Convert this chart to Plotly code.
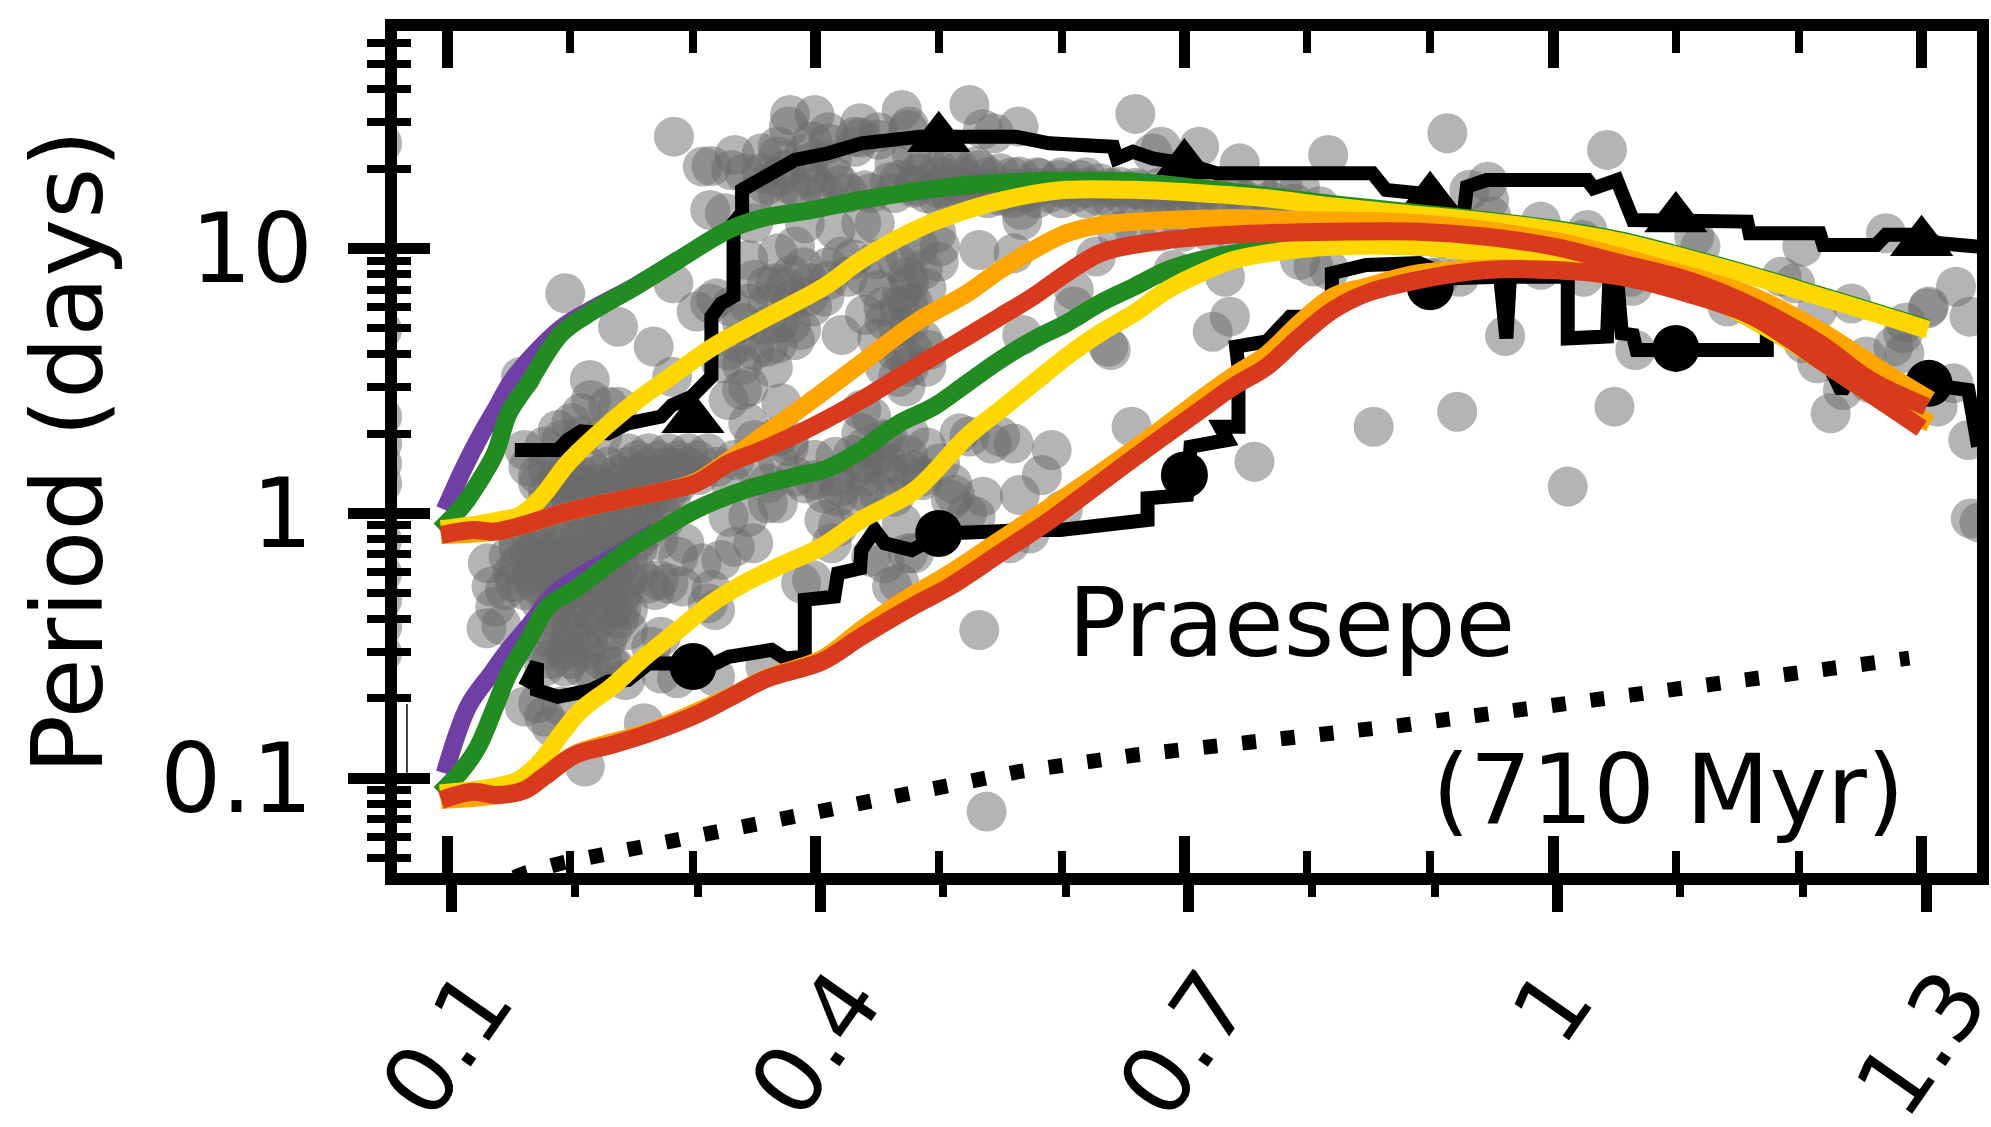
import plotly.graph_objects as go

# ---------- axis values ----------
MASS_TICKS = [0.1, 0.4, 0.7, 1.0, 1.3]
MASS_TICK_LABELS = ["0.1", "0.4", "0.7", "1", "1.3"]
MASS_MINOR = [0.2, 0.3, 0.5, 0.6, 0.8, 0.9, 1.1, 1.2]
PERIOD_TICKS = [0.1, 1, 10]
PERIOD_TICK_LABELS = ["0.1", "1", "10"]
PERIOD_MINOR = [0.05, 0.06, 0.07, 0.08, 0.09, 0.2, 0.3, 0.4, 0.5, 0.6, 0.7, 0.8, 0.9,
                2, 3, 4, 5, 6, 7, 8, 9, 20, 30, 40, 50, 60, 70]

# ---------- stars: (mass, log10 period) ----------
stars_top_ridge = [
    (.2845,1.423),(.308,1.31),(.315,1.312),(.334,1.354),(.331,1.297),(.356,1.36),(.342,1.285),
    (.379,1.505),(.399,1.505),(.378,1.461),(.436,1.474),(.432,1.423),(.47,1.524),(.475,1.448),
    (.314,1.146),(.326,1.134),(.369,1.386),(.397,1.405),(.41,1.44),(.437,1.42),(.451,1.44),
    (.369,1.348),(.391,1.36),(.41,1.398),(.432,1.385),(.451,1.411),(.356,1.285),(.375,1.297),
    (.394,1.323),(.413,1.335),(.464,1.32),(.478,1.36),(.35,1.2),(.369,1.21),(.388,1.21),
    (.407,1.21),(.426,1.21),(.445,1.21),(.464,1.21),(.48,1.24),(.415,1.27),(.395,1.27),(.37,1.27),
    (.36,1.24),(.38,1.24),(.4,1.24),(.42,1.24),(.44,1.22),(.46,1.25),
]
stars_upper_band = [
    (.468,1.259),(.484,1.285),(.50,1.297),(.517,1.297),(.533,1.297),(.55,1.285),(.566,1.272),
    (.582,1.266),(.598,1.259),(.615,1.259),(.631,1.247),(.647,1.234),(.663,1.222),(.68,1.209),
    (.696,1.196),(.713,1.184),(.729,1.171),(.745,1.165),(.761,1.159),(.778,1.146),
    (.49,1.21),(.51,1.2),(.53,1.22),(.55,1.2),(.57,1.21),(.59,1.21),(.61,1.21),(.63,1.2),(.65,1.2),
    (.67,1.2),(.69,1.2),(.71,1.19),(.73,1.19),(.75,1.18),(.77,1.18),(.79,1.17),(.81,1.16),
    (.49,1.32),(.51,1.32),(.53,1.31),(.78,1.234),(.794,1.234),
    (.525,1.543),(.476,1.461),(.536,1.451),(.545,1.436),(.565,1.461),(.66,1.509),(.681,1.385),
    (.674,1.36),(.712,1.385),(.745,1.322),(.817,1.354),
    (.645,1.065),(.66,1.065),(.68,1.065),(.699,1.065),(.72,1.065),(.74,1.06),(.759,1.06),(.78,1.055),
    (.5,1.27),(.52,1.27),(.54,1.27),(.56,1.27),(.58,1.27),(.6,1.27),(.62,1.27),
    (.48,1.23),(.5,1.23),(.52,1.23),(.54,1.23),(.56,1.23),(.58,1.23),(.6,1.23),(.62,1.23),(.64,1.23),
    (.66,1.23),(.68,1.23),(.7,1.23),(.72,1.23),(.74,1.23),(.76,1.23),
    (.5,1.19),(.52,1.19),(.54,1.19),(.56,1.19),(.58,1.19),(.6,1.19),(.62,1.19),(.64,1.19),(.66,1.19),
    (.68,1.19),(.7,1.19),
]
stars_middle = [
    (.568,1.108),(.567,1.146),(.533,.995),(.561,.982),(.501,1.008),(.484,1.008),(.498,1.058),
    (.487,.919),(.473,.97),(.476,.869),(.468,.781),(.479,.793),(.476,.718),(.487,.655),(.479,.617),
    (.492,.617),(.476,.554),(.49,.554),(.473,.479),
    (.349,1.096),(.369,.982),(.383,1.008),(.391,1.096),(.416,1.071),(.421,.97),(.437,1.096),
    (.448,1.096),(.426,.894),(.44,.894),(.451,.844),(.467,.945),(.475,.894),(.345,.957),(.35,.882),
    (.367,.869),(.375,.856),(.345,.793),(.361,.793),(.38,.806),(.394,.819),(.407,.819),(.397,.781),
    (.421,.674),(.456,.73),(.467,.705),(.475,.793),(.369,.642),(.383,.655),(.35,.617),(.361,.63),
    (.337,.642),(.38,.718),(.388,.693),(.345,.479),(.34,.466),(.372,.416),
    (.464,.617),(.456,.554),(.472,.592),(.467,.516),(.437,.39),(.445,.365),(.345,.34),(.378,.252),
    (.369,.29),(.44,.189),(.451,.214),
    (.284,.869),(.303,.762),(.314,.793),(.319,.812),(.331,.781),(.239,.705),(.268,.63),(.283,.516),
    (.16,.516),(.216,.504),(.217,.428),(.231,.403),(.239,.403),(.201,.34),(.19,.315),(.209,.378),
    (.196,.831),(.329,.428),(.323,.567),(.329,.617),
    (.39,.93),(.41,.93),(.43,.96),(.45,.96),(.395,.87),(.41,.88),(.455,.78),(.44,.75),(.49,.85),
    (.5,.95),(.47,.84),(.45,.66),(.36,.86),(.38,.9),(.36,.71),(.37,.72),(.34,.72),(.34,.56),(.365,.55),
    (.44,.25),(.455,.28),(.43,.22),(.46,.15),(.44,.08),(.42,.1),(.475,.22),(.49,.25),
]
stars_lower_blob = [
    (.247,.227),(.264,.227),(.28,.227),(.296,.227),(.312,.227),(.163,.239),(.179,.252),(.193,.277),
    (.209,.29),(.226,.29),
    (.166,.176),(.182,.176),(.198,.176),(.215,.176),(.231,.176),(.247,.176),(.264,.176),(.28,.176),
    (.296,.176),(.32,.176),
    (.174,.113),(.19,.113),(.207,.113),(.223,.113),(.239,.113),(.255,.113),(.272,.113),(.288,.113),
    (.185,.05),(.201,.05),(.217,.05),(.234,.05),(.25,.05),(.266,.05),(.282,.05),
    (.212,-.025),(.228,-.025),(.245,-.025),(.261,-.025),(.277,-.025),
    (.158,-.101),(.174,-.101),(.19,-.101),(.207,-.101),(.223,-.101),(.239,-.101),(.255,-.101),(.272,-.101),
    (.15,-.164),(.166,-.164),(.182,-.164),(.198,-.164),(.215,-.164),(.231,-.164),(.247,-.164),
    (.153,-.227),(.169,-.227),(.185,-.227),(.201,-.227),(.217,-.227),(.234,-.227),
    (.147,-.29),(.163,-.29),(.179,-.29),(.196,-.29),(.212,-.29),(.228,-.29),(.244,-.29),
    (.185,-.365),(.201,-.365),(.217,-.365),(.234,-.365),(.247,-.365),
    (.185,-.441),(.201,-.441),(.217,-.441),(.234,-.441),(.247,-.441),
    (.179,-.516),(.196,-.516),(.212,-.516),(.179,-.579),(.196,-.579),(.209,-.579),(.234,-.579),
    (.132,-.434),(.144,-.422),(.139,-.353),(.136,-.277),(.133,-.189),
    (.163,-.73),(.179,-.768),(.174,-.718),(.185,-.806),(.193,-.73),(.26,-.793),(.212,-.957),
    (.245,-.63),(.287,-.623),(.302,-.567),(.318,-.617),(.22,-.605),(.236,-.579),(.226,-.554),
    (.274,-.605),(.359,-.579),
    (.288,-.164),(.307,-.189),(.323,-.176),(.349,-.113),(.334,-.126),(.293,-.113),(.272,-.252),
    (.291,-.277),(.312,-.34),(.318,-.365),(.269,-.29),(.28,-.265),(.247,-.252),(.264,-.265),
    (.242,-.353),(.255,-.227),(.274,-.466),(.266,-.504),(.315,-.29),
]
stars_lower_blob_core = [
    (.255,.2),(.272,.2),(.288,.2),(.304,.2),
    (.174,.145),(.19,.145),(.207,.145),(.223,.145),(.239,.145),(.255,.145),(.272,.145),(.288,.145),(.305,.145),
    (.182,.08),(.198,.08),(.215,.08),(.231,.08),(.247,.08),(.264,.08),(.28,.08),
    (.193,.01),(.209,.01),(.226,.01),(.242,.01),(.258,.01),(.274,.01),
    (.166,-.065),(.182,-.065),(.198,-.065),(.215,-.065),(.231,-.065),(.247,-.065),(.263,-.065),
    (.158,-.13),(.174,-.13),(.19,-.13),(.207,-.13),(.223,-.13),(.239,-.13),(.255,-.13),
    (.158,-.195),(.174,-.195),(.19,-.195),(.207,-.195),(.223,-.195),(.24,-.195),
    (.155,-.26),(.171,-.26),(.187,-.26),(.204,-.26),(.22,-.26),(.236,-.26),
    (.175,-.33),(.19,-.33),(.207,-.33),(.223,-.33),(.24,-.33),
    (.19,-.40),(.207,-.40),(.223,-.40),(.24,-.40),
    (.185,-.48),(.2,-.48),(.215,-.48),(.23,-.48),(.185,-.55),(.2,-.55),
]
stars_lower_mid = [
    (.329,-.013),(.345,-.013),(.361,.038),(.369,.038),(.383,.139),(.399,.126),(.416,.139),(.432,.164),
    (.448,.214),(.459,.189),(.418,.063),(.434,.025),(.418,-.05),(.451,.076),(.464,.063),(.473,.151),
    (.331,.113),(.35,.176),(.369,.202),(.378,.277),(.35,.277),(.334,.202),(.399,.202),(.416,.214),
    (.459,.277),(.437,.302),(.391,.113),(.361,.113),(.44,.139),(.407,.076),
    (.388,-.264),(.397,-.252),(.462,-.277),(.445,-.164),(.456,-.189),(.413,-.113),(.475,-.151),
    (.47,-.038),(.407,-.025),
    (.476,.302),(.501,.189),(.486,.139),(.592,.239),(.584,.145),(.566,.069),(.536,.063),(.511,.113),
    (.51,.05),(.523,0),(.53,-.013),(.513,.07),(.487,.126),(.479,.164),(.525,.29),(.543,.264),(.561,.264),
    (.517,.302),(.55,.29),(.601,.013),(.558,-.113),(.574,-.076),(.48,-.151),(.468,-.264),(.533,-.441),
    (.539,-1.127),(.757,.195),(.854,.327),
    (.61,.844),(.61,.781),(.628,.97),(.691,.919),(.733,.894),(.737,.743),(.723,.686),(.568,.674),
    (.64,.617),(.638,.63),(.657,.327),(.805,.932),(.818,.919),(.794,.957),
]
stars_high_mass = [
    (.914,1.436),(1.044,1.373),(.947,1.253),(.932,1.222),(.948,1.184),(.95,1.121),(.99,1.102),
    (1.024,1.033),(1.028,1.07),(.961,.67),(.922,.384),(1.05,.403),(1.012,.101),(.924,.894),(.908,.894),
    (.9,.89),(.99,.92),(1.025,.894),(1.063,.894),(1.065,.86),(1.114,.882),(1.067,.617),(1.142,.781),
    (1.142,.83),(1.186,.894),(1.197,.869),(1.203,1.008),(1.12,1.008),(1.115,1.045),(1.271,1.058),
    (1.243,.793),(1.306,.781),(1.215,.768),(1.204,.642),(1.215,.567),(1.226,.378),(1.236,.466),
    (1.258,.491),(1.255,.592),(1.285,.68),(1.286,.605),(1.277,.63),(1.287,.72),
    (1.328,.856),(1.305,.775),(1.339,.743),(1.313,.403),(1.338,.277),(1.34,-.02),(1.347,-.035),(1.326,.491),
]
stars_left_edge = [
    (.047,1.398),(.047,.693),(.047,.365),(.047,.264),(.047,.189),(.047,.113),(.047,-.101),(.047,-.227),
    (.047,-.327),(.047,-.428),(.047,-.529),
]

# ---------- envelope curves: mass, log10 period ----------
purple_upper_m = [.098,.114,.128,.139,.155,.193,.22,.253,.288]
purple_upper_p = [.0126,.176,.302,.39,.516,.7,.776,.858,.957]
green_upper_m = [.094,.112,.125,.139,.15,.166,.193,.22,.253,.288,.329,.356,.397,.437,.48,.523,.565,.604,.659,.713,.767,.821,.891,.946,1.0,1.055,1.109,1.163,1.217,1.271,1.305]
green_upper_p = [-.063,.025,.113,.227,.378,.491,.68,.768,.856,.957,1.071,1.115,1.146,1.184,1.215,1.24,1.253,1.257,1.253,1.228,1.199,1.168,1.134,1.107,1.075,1.031,.968,.899,.824,.748,.698]
yellow_upper_m = [.095,.139,.16,.177,.198,.22,.255,.283,.315,.356,.407,.437,.481,.523,.565,.604,.659,.713,.767,.821,.891,.946,1.0,1.055,1.109,1.163,1.217,1.271,1.305]
yellow_upper_p = [-.06,-.03,-.006,.063,.189,.29,.428,.52,.625,.73,.856,.957,1.071,1.146,1.196,1.222,1.222,1.209,1.19,1.159,1.127,1.102,1.07,1.026,.963,.894,.819,.743,.693]
orange_upper_m = [.095,.139,.162,.193,.234,.274,.302,.329,.356,.397,.437,.481,.523,.55,.577,.604,.631,.686,.74,.794,.891,1.0,1.109,1.163,1.217,1.271,1.307]
orange_upper_p = [-.082,-.069,-.044,0,.044,.082,.118,.2,.29,.428,.567,.72,.831,.919,.995,1.058,1.089,1.108,1.115,1.108,1.096,1.03,.9,.82,.69,.53,.428]
red_upper_m = [.095,.121,.139,.162,.193,.234,.274,.302,.329,.356,.397,.437,.468,.496,.523,.55,.577,.604,.631,.659,.713,.767,.821,.891,.946,1.0,1.055,1.109,1.163,1.217,1.258,1.304]
red_upper_p = [-.082,-.063,-.069,-.044,0,.044,.082,.113,.189,.239,.327,.428,.516,.592,.667,.743,.819,.907,.982,1.014,1.045,1.058,1.064,1.064,1.045,1.008,.945,.882,.781,.642,.504,.403]
purple_lower_m = [.098,.117,.136,.15,.166,.188,.209,.247,.269]
purple_lower_p = [-.982,-.73,-.605,-.516,-.428,-.302,-.235,-.135,-.07]
green_lower_m = [.094,.112,.125,.139,.15,.166,.182,.207,.247,.274,.302,.342,.383,.41,.437,.468,.496,.523,.55,.577,.604,.631,.659,.686,.713,.74,.767,.821,.891,.946,1.0,1.055,1.109,1.163,1.217,1.258,1.3]
green_lower_p = [-1.058,-.97,-.882,-.73,-.605,-.479,-.353,-.277,-.139,-.063,.013,.088,.139,.17,.239,.34,.403,.491,.579,.655,.718,.793,.856,.919,.957,.982,1.001,1.014,1.008,.982,.957,.907,.856,.73,.579,.453,.327]
yellow_lower_m = [.094,.139,.158,.177,.193,.209,.234,.261,.288,.315,.342,.369,.405,.437,.481,.523,.55,.577,.604,.631,.659,.686,.713,.74,.767,.821,.891,.946,1.0,1.055,1.109,1.163,1.217,1.258,1.3]
yellow_lower_p = [-1.058,-1.033,-1.008,-.932,-.831,-.743,-.655,-.542,-.441,-.34,-.264,-.202,-.126,-.025,.088,.29,.39,.491,.592,.68,.756,.844,.907,.957,.982,1.008,1.008,.982,.97,.932,.856,.73,.579,.453,.327]
orange_lower_m = [.095,.162,.179,.204,.264,.329,.361,.405,.437,.468,.509,.55,.591,.631,.679,.713,.74,.767,.794,.821,.848,.891,.946,1.0,1.055,1.109,1.163,1.217,1.258,1.307]
orange_lower_p = [-1.083,-1.045,-.99,-.91,-.825,-.695,-.62,-.55,-.44,-.34,-.227,-.101,.025,.151,.31,.43,.52,.6,.72,.819,.856,.907,.925,.92,.9,.84,.75,.585,.46,.34]
red_lower_m = [.095,.121,.139,.162,.179,.204,.234,.264,.302,.329,.361,.405,.437,.481,.509,.55,.591,.631,.679,.713,.74,.767,.794,.821,.848,.891,.946,1.0,1.055,1.109,1.163,1.217,1.258,1.3]
red_lower_p = [-1.083,-1.052,-1.064,-1.048,-.995,-.913,-.875,-.831,-.762,-.699,-.623,-.56,-.466,-.346,-.277,-.151,-.025,.113,.277,.39,.479,.554,.667,.768,.831,.882,.919,.919,.894,.831,.743,.579,.453,.321]

# ---------- black percentile tracks ----------
track_slow_m = [.155,.190,.198,.209,.231,.247,.274,.283,.299,.315,.315,.323,.333,.333,.340,.340,.359,.383,.410,.437,.485,.523,.563,.590,.642,.645,.658,.674,.699,.726,.821,.853,.864,.891,.927,.930,.946,1.028,1.033,1.052,1.065,1.158,1.160,1.217,1.220,1.263,1.271,1.293,1.315,1.35]
track_slow_p = [.239,.239,.277,.309,.302,.340,.365,.409,.441,.516,.743,.793,.819,1.096,1.134,1.222,1.272,1.335,1.36,1.398,1.423,1.417,1.423,1.398,1.385,1.341,1.366,1.341,1.322,1.285,1.285,1.285,1.222,1.209,1.12,1.234,1.259,1.259,1.228,1.259,1.108,1.102,1.058,1.058,1.014,1.014,1.052,1.052,1.02,1.006]
track_fast_m = [.163,.173,.173,.190,.204,.217,.231,.247,.264,.296,.318,.329,.345,.364,.375,.391,.391,.415,.418,.436,.437,.448,.456,.478,.504,.542,.577,.599,.642,.670,.670,.702,.705,.735,.729,.744,.744,.742,.767,.786,.81,.82,.82,.848,.891,.919,.957,.962,.965,1.012,1.012,1.044,1.046,1.052,1.056,1.065,1.068,1.174,1.174,1.196,1.201,1.217,1.235,1.244,1.258,1.3,1.338,1.346]
track_fast_p = [-.655,-.567,-.668,-.693,-.68,-.668,-.636,-.63,-.567,-.567,-.567,-.542,-.529,-.516,-.548,-.542,-.327,-.315,-.227,-.208,-.139,-.063,-.113,-.139,-.076,-.063,-.063,-.063,-.038,-.025,.057,.069,.252,.277,.327,.327,.554,.63,.649,.743,.743,.819,.907,.938,.945,.888,.894,.661,.894,.894,.661,.668,.894,.894,.68,.674,.617,.617,.73,.68,.63,.63,.46,.529,.491,.49,.466,.252]
triangle_m = [.3, .5, .7, .9, 1.1, 1.3]
triangle_p = [.355, 1.417, 1.314, 1.19, 1.114, 1.024]
circle_m = [.3, .5, .7, .9, 1.1, 1.306]
circle_p = [-.579, -.076, .145, .856, .623, .491]

# ---------- dotted limit line ----------
limit_m = [.125, .163, .194, .287, .41, .565, .66, .753, .879, 1.064, 1.29]
limit_p = [-1.43, -1.36, -1.32, -1.234, -1.113, -.976, -.913, -.863, -.8, -.686, -.547]
edge_line_m = [.0672, .0672]
edge_line_p = [-.98, -.72]

FONT = "DejaVu Sans"
GREY = "rgba(105,105,105,0.5)"
PURPLE, GREEN, YELLOW, ORANGE, RED = "#6f3fa6", "#228b22", "#ffd700", "#ffa500", "#d9391c"


def P(values):
    return [10 ** v for v in values]


fig = go.Figure()
all_stars = (stars_left_edge + stars_top_ridge + stars_upper_band + stars_middle +
             stars_lower_blob + stars_lower_blob_core + stars_lower_mid + stars_high_mass)
fig.add_trace(go.Scatter(x=[s[0] for s in all_stars], y=P([s[1] for s in all_stars]), mode="markers",
                         marker=dict(size=40, color=GREY, line=dict(width=0)), name="stars"))
fig.add_trace(go.Scatter(x=edge_line_m, y=P(edge_line_p), mode="lines",
                         line=dict(color="black", width=1.5)))
fig.add_trace(go.Scatter(x=track_slow_m, y=P(track_slow_p), mode="lines", line=dict(color="black", width=14)))
fig.add_trace(go.Scatter(x=track_fast_m, y=P(track_fast_p), mode="lines", line=dict(color="black", width=14)))
fig.add_trace(go.Scatter(x=triangle_m, y=P(triangle_p), mode="markers",
                         marker=dict(symbol="triangle-up", size=55, color="black", line=dict(width=0))))
fig.add_trace(go.Scatter(x=circle_m, y=P(circle_p), mode="markers",
                         marker=dict(size=47, color="black", line=dict(width=0))))
for m, p, c in [(purple_upper_m, purple_upper_p, PURPLE), (purple_lower_m, purple_lower_p, PURPLE),
                (green_upper_m, green_upper_p, GREEN), (green_lower_m, green_lower_p, GREEN),
                (yellow_upper_m, yellow_upper_p, YELLOW), (yellow_lower_m, yellow_lower_p, YELLOW),
                (orange_upper_m, orange_upper_p, ORANGE), (orange_lower_m, orange_lower_p, ORANGE),
                (red_upper_m, red_upper_p, RED), (red_lower_m, red_lower_p, RED)]:
    fig.add_trace(go.Scatter(x=m, y=P(p), mode="lines",
                             line=dict(color=c, width=18, shape="spline", smoothing=1.0)))
fig.add_trace(go.Scatter(x=limit_m, y=P(limit_p), mode="lines",
                         line=dict(color="black", width=15, dash="14px,25px")))
fig.add_trace(go.Scatter(x=[], y=[], xaxis="x2", yaxis="y", showlegend=False))
fig.add_trace(go.Scatter(x=[], y=[], xaxis="x3", yaxis="y", showlegend=False))
fig.add_trace(go.Scatter(x=[], y=[], xaxis="x", yaxis="y2", showlegend=False))

X_RANGE = [.0591, 1.3451]
Y_RANGE = [-1.3589, 1.8221]
BOTTOM_SHIFT = 0.0037

minor_x_in = dict(ticks="inside", tickmode="array", tickvals=MASS_MINOR, ticklen=22, tickwidth=8, tickcolor="black")
minor_x_out = dict(ticks="outside", tickmode="array", tickvals=MASS_MINOR, ticklen=23, tickwidth=8, tickcolor="black")
minor_x_top = dict(ticks="outside", tickmode="array", tickvals=MASS_MINOR, ticklen=8, tickwidth=8, tickcolor="black")

label_font = dict(family=FONT, size=94, color="black")
tick_annotations = [
    dict(text=t, xref="x", yref="paper", x=v, y=(873 - 948) / 842, xanchor="center", yanchor="top",
         textangle=-55, showarrow=False, font=label_font)
    for t, v in zip(MASS_TICK_LABELS, MASS_TICKS)
]

fig.update_layout(
    width=1991, height=1127, autosize=False, showlegend=False,
    margin=dict(l=397, r=14, t=31, b=254, pad=0),
    paper_bgcolor="white", plot_bgcolor="white",
    font=dict(family=FONT, color="black"),
    xaxis=dict(range=X_RANGE, automargin=False, showgrid=False, zeroline=False, showline=True, linecolor="black", linewidth=12,
               mirror="ticks", ticks="inside", ticklen=37, tickwidth=11, tickcolor="black", tickmode="array",
               tickvals=MASS_TICKS, showticklabels=False, minor=minor_x_in, anchor="y"),
    xaxis2=dict(range=[X_RANGE[0] - BOTTOM_SHIFT, X_RANGE[1] - BOTTOM_SHIFT], automargin=False, overlaying="x", side="bottom",
                anchor="y", showgrid=False, zeroline=False, showline=False, ticks="outside", ticklen=38, tickwidth=11,
                tickcolor="black", tickmode="array", tickvals=MASS_TICKS, showticklabels=False,
                minor=minor_x_out),
    xaxis3=dict(range=X_RANGE, automargin=False, overlaying="x", side="top", anchor="y", showgrid=False, zeroline=False, showline=False,
                ticks="outside", ticklen=8, tickwidth=11, tickcolor="black", tickmode="array", tickvals=MASS_TICKS,
                showticklabels=False, minor=minor_x_top),
    yaxis=dict(type="log", range=Y_RANGE, automargin=False, showgrid=False, zeroline=False, showline=True, linecolor="black", linewidth=12,
               mirror=True, ticks="outside", ticklen=37, tickwidth=11, tickcolor="black", tickmode="array",
               tickvals=PERIOD_TICKS, ticktext=PERIOD_TICK_LABELS, ticklabelstandoff=16,
               tickfont=dict(family=FONT, size=96, color="black"),
               minor=dict(ticks="outside", tickmode="array", tickvals=PERIOD_MINOR, ticklen=18, tickwidth=8, tickcolor="black"),
               anchor="x"),
    yaxis2=dict(type="log", range=Y_RANGE, automargin=False, overlaying="y", side="left", anchor="x", showgrid=False, zeroline=False,
                showline=False, ticks="inside", ticklen=33, tickwidth=11, tickcolor="black", tickmode="array",
                tickvals=PERIOD_TICKS, showticklabels=False,
                minor=dict(ticks="inside", tickmode="array", tickvals=PERIOD_MINOR, ticklen=14, tickwidth=8, tickcolor="black")),
    annotations=tick_annotations + [
        dict(text="Period (days)", xref="paper", yref="paper", x=(68 - 397) / 1580, y=(873 - 452) / 842,
             xanchor="center", yanchor="middle", textangle=-90, showarrow=False,
             font=dict(family=FONT, size=98, color="black")),
        dict(text="Praesepe", xref="paper", yref="paper", x=(1291 - 397) / 1580, y=(873 - 622) / 842,
             xanchor="center", yanchor="middle", showarrow=False, font=dict(family=FONT, size=97, color="black")),
        dict(text="(710 Myr)", xref="paper", yref="paper", x=(1668 - 397) / 1580, y=(873 - 789) / 842,
             xanchor="center", yanchor="middle", showarrow=False, font=dict(family=FONT, size=97, color="black")),
    ],
)

fig.write_html("out.html", config={"displayModeBar": False},
               post_script="document.body.style.margin='0';document.body.style.overflow='hidden';")
